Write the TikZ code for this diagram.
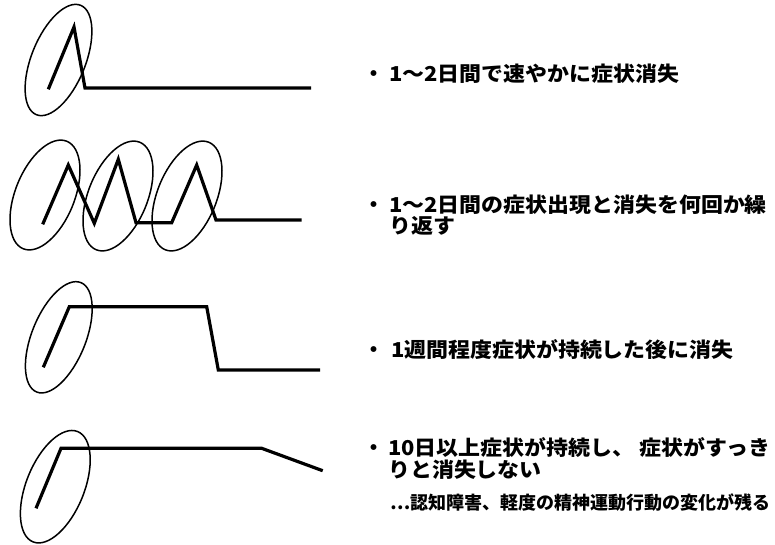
\documentclass[tikz,border=0pt]{standalone}
\usepackage{fontspec}
\newfontfamily\jp{Noto Sans CJK JP}
\newfontfamily\jpw{Noto Sans CJK JP}[FakeStretch=1.07]
\begin{document}
\begin{tikzpicture}[x=1pt,y=-1pt,
  curve/.style={line width=3.2pt,line join=miter,line cap=butt},
  ring/.style={line width=1.5pt},
  big/.style={inner sep=0pt,font=\jpw\bfseries\fontsize{20.5}{20.5}\selectfont,anchor=base west},
  small/.style={inner sep=0pt,font=\jp\bfseries\fontsize{18}{18}\selectfont,anchor=base west},
  dot/.style={inner sep=0pt,font=\jp\bfseries\fontsize{21}{21}\selectfont,anchor=base}]
\useasboundingbox (0,0) rectangle (775,544);
% panel 1
\draw[curve] (48.3,89.3) -- (74,27) -- (85,88) -- (311,88);
\draw[ring,rotate around={68:(58.5,60)}] (58.5,60) ellipse [x radius=59pt,y radius=27pt];
% panel 2
\draw[curve] (42.7,224.3) -- (68.3,165) -- (94.3,223.3) -- (118.3,159.3) -- (136,222.7) -- (171.7,222.7) -- (196.7,165) -- (216,220) -- (301.7,220);
\draw[ring,rotate around={68:(45,195)}] (45,195) ellipse [x radius=58pt,y radius=29.6pt];
\draw[ring,rotate around={68:(118,196)}] (118,196) ellipse [x radius=58pt,y radius=29.6pt];
\draw[ring,rotate around={68:(187,196)}] (187,196) ellipse [x radius=58pt,y radius=29.6pt];
% panel 3
\draw[curve] (43.3,367.3) -- (69.3,306.7) -- (206.7,306.7) -- (218.3,370) -- (320,370);
\draw[ring,rotate around={68:(58.8,337.3)}] (58.8,337.3) ellipse [x radius=59pt,y radius=27pt];
% panel 4
\draw[curve] (36,508.3) -- (61,448.3) -- (261.7,448.3) -- (322.7,470.7);
\draw[ring,rotate around={68:(55.3,486.7)}] (55.3,486.7) ellipse [x radius=59.5pt,y radius=29pt];
% texts
\node[dot] (b1) at (373.5,81) {・};
\node[big] (t1) at (389,81) {1～2日間で速やかに症状消失};
\node[dot] (b2) at (373.5,212) {・};
\node[big] (t2a) at (389,212) {1～2日間の症状出現と消失を何回か繰};
\node[big] (t2b) at (389,233.7) {り返す};
\node[dot] (b3) at (373.5,357) {・};
\node[big] (t3) at (391,357) {1週間程度症状が持続した後に消失};
\node[dot] (b4) at (373.5,455.5) {・};
\node[big] (t4a) at (388,455.5) {10日以上症状が持続し、 症状がすっき};
\node[big] (t4b) at (388,477.2) {りと消失しない};
\node[small] (t5) at (390,509.6) {…認知障害、軽度の精神運動行動の変化が残る};
\end{tikzpicture}
\end{document}
